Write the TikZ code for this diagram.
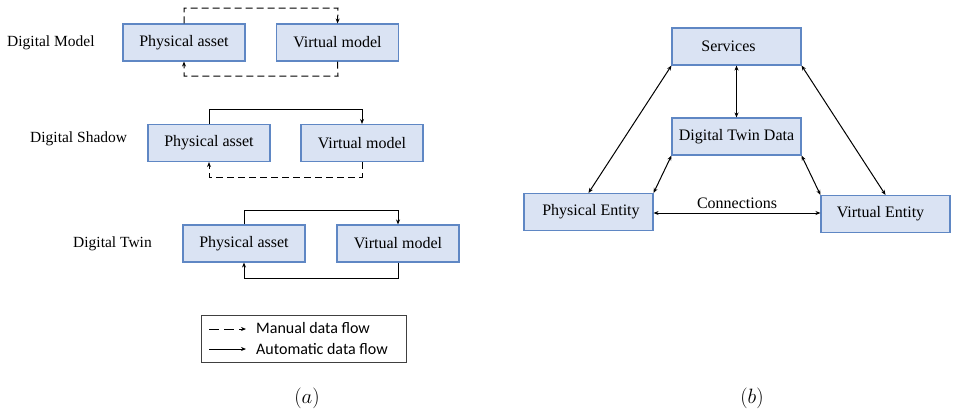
\documentclass[tikz,border=0pt]{standalone}
\usepackage{fontspec}
\setmainfont{Liberation Serif}
\newfontfamily\legendfont{Carlito}
\usetikzlibrary{arrows.meta,positioning}
\definecolor{boxfill}{HTML}{DAE3F3}
\definecolor{boxline}{HTML}{5F87C4}
\tikzset{
  box/.style={draw=boxline, fill=boxfill, line width=1.1pt, minimum height=37pt,
              inner sep=0pt, font=\fontsize{16}{18}\selectfont},
  smallbox/.style={box, minimum width=122pt},
  bigbox/.style={box, minimum width=129pt},
  rowlabel/.style={font=\fontsize{15.5}{17}\selectfont, inner sep=0pt},
  flow/.style={line width=1pt, -{Stealth[length=5pt,width=4pt]}},
  manual/.style={flow, dash pattern=on 7pt off 4pt},
  link/.style={line width=1pt, {Stealth[length=5pt,width=4pt]}-{Stealth[length=5pt,width=4pt]}},
  legtext/.style={anchor=west, inner sep=0pt, font=\legendfont\fontsize{16}{18}\selectfont}
}
\begin{document}
\begin{tikzpicture}[x=1pt,y=-1pt]
\useasboundingbox (0,0) rectangle (953,413);

% ---- Digital Model ----
\node[rowlabel, anchor=west] (lm) at (7,43) {Digital Model};
\node[smallbox] (pa1) at (184,42.5) {Physical asset};
\node[smallbox] (vm1) at (337.5,42.5) {Virtual model};
\coordinate (m1a) at (184,8);  \coordinate (m1b) at (338,8);
\coordinate (m1c) at (338,76); \coordinate (m1d) at (184,76);
\draw[manual] (pa1.north) -- (m1a) -- (m1b) -- (vm1.north);
\draw[manual] (vm1.south) -- (m1c) -- (m1d) -- (pa1.south);

% ---- Digital Shadow ----
\node[rowlabel, anchor=west] (ls) at (30,139) {Digital Shadow};
\node[smallbox] (pa2) at (209,143) {Physical asset};
\node[smallbox] (vm2) at (362,143) {Virtual model};
\coordinate (m2a) at (209,109); \coordinate (m2b) at (362,109);
\coordinate (m2c) at (362,177); \coordinate (m2d) at (209,177);
\draw[flow] (pa2.north) -- (m2a) -- (m2b) -- (vm2.north);
\draw[manual] (vm2.south) -- (m2c) -- (m2d) -- (pa2.south);

% ---- Digital Twin ----
\node[rowlabel, anchor=west] (lt) at (73,244) {Digital Twin};
\node[smallbox] (pa3) at (244,243.5) {Physical asset};
\node[smallbox] (vm3) at (398,243.5) {Virtual model};
\coordinate (m3a) at (244,210); \coordinate (m3b) at (398,210);
\coordinate (m3c) at (398,278); \coordinate (m3d) at (244,278);
\draw[flow] (pa3.north) -- (m3a) -- (m3b) -- (vm3.north);
\draw[flow] (vm3.south) -- (m3c) -- (m3d) -- (pa3.south);

% ---- legend ----
\node[draw=black!75, line width=0.8pt, minimum width=205pt, minimum height=47pt, inner sep=0pt] (leg) at (303.5,338.5) {};
\coordinate (d0) at (209,329); \coordinate (d1) at (246,329);
\coordinate (s0) at (209,349); \coordinate (s1) at (246,349);
\draw[manual, dash pattern=on 10pt off 5pt] (d0) -- (d1);
\draw[flow] (s0) -- (s1);
\node[legtext] (lg1) at (256,328) {Manual data flow};
\node[legtext] (lg2) at (256,348.5) {Automatic data flow};

\node[font=\fontsize{20}{22}\selectfont] (capa) at (307,398) {$(a)$};

% ---- right: digital twin model ----
\node[bigbox] (srv) at (736.5,46.5) {Services\hspace*{16pt}};
\node[bigbox] (dtd) at (736.5,136.5) {Digital Twin Data};
\node[bigbox] (pe) at (588.5,212) {\hspace*{5pt}Physical Entity};
\node[bigbox] (ve) at (885.5,214) {Virtual Entity\hspace*{10pt}};

\draw[link] (srv.south west) -- (pe.north);
\draw[link] (srv.south east) -- (ve.north);
\draw[link] (srv.south) -- (dtd.north);
\draw[link] (dtd.south west) -- (pe.north east);
\draw[link] (dtd.south east) -- (ve.north west);
\draw[link] (pe.east |- 0,213) -- node[above=1pt, font=\fontsize{16}{18}\selectfont] (cn) {Connections} (ve.west |- 0,213);

\node[font=\fontsize{20}{22}\selectfont] (capb) at (752,398) {$(b)$};
\end{tikzpicture}
\end{document}
